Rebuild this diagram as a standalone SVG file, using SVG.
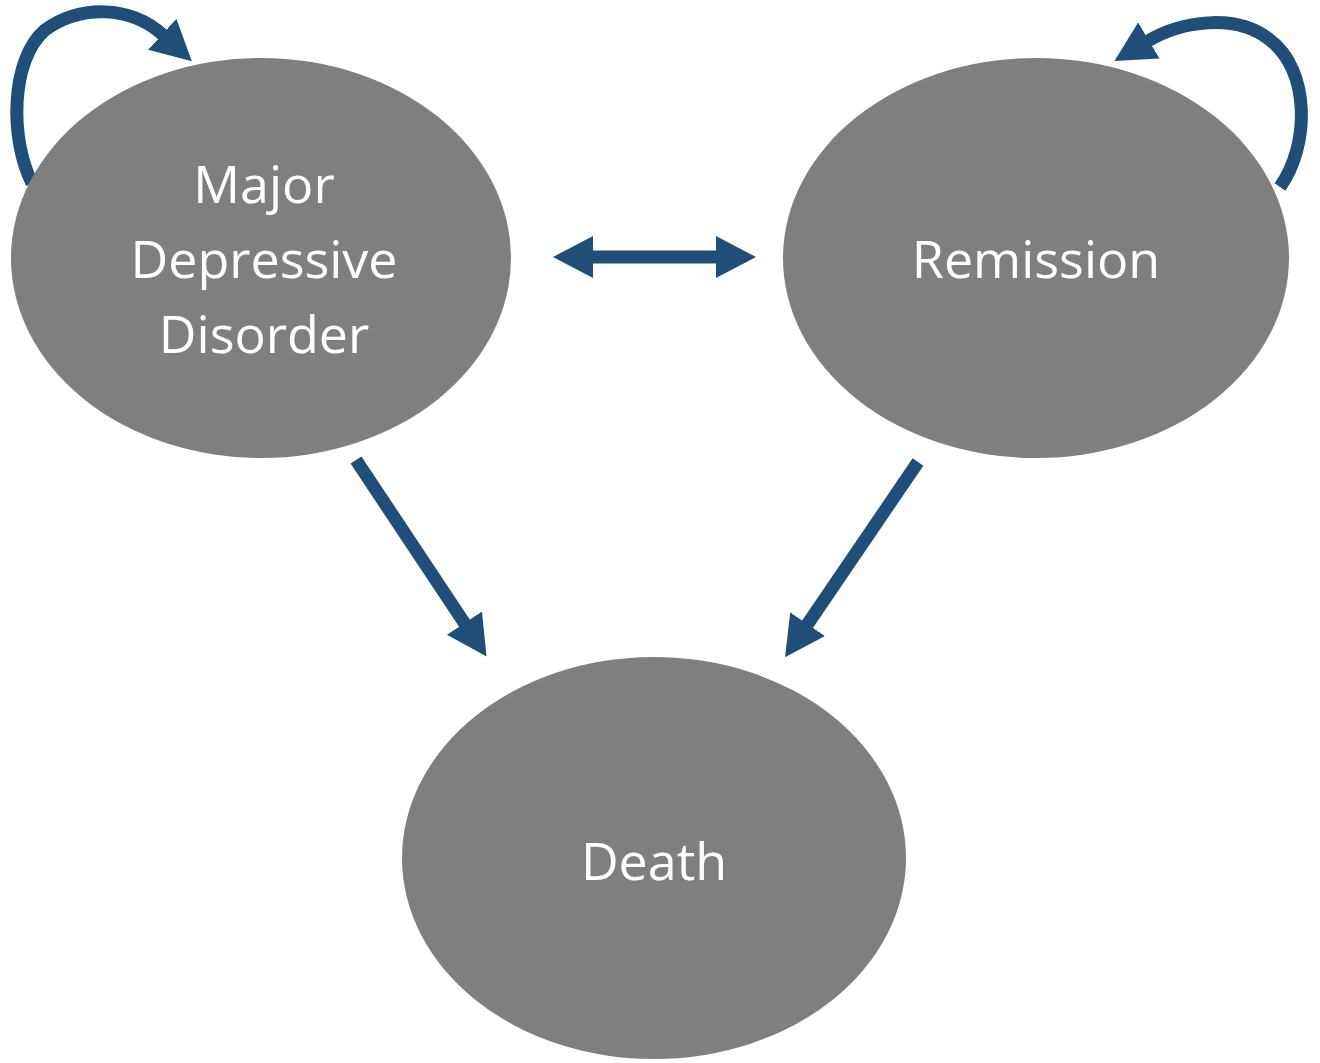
<svg xmlns="http://www.w3.org/2000/svg" width="1320" height="1063" viewBox="0 0 1320 1063">
<style>
.node{fill:#7f7f7f}
.lbl{fill:#ffffff;font-family:"Open Sans","Noto Sans","Liberation Sans",sans-serif;font-size:52px;text-anchor:middle}
.con{fill:none;stroke:#1f4e79;stroke-width:13}
.loop{fill:none;stroke:#1f4e79;stroke-width:13}
</style>
<defs>
<marker id="ah" markerUnits="userSpaceOnUse" markerWidth="40" markerHeight="42" refX="1" refY="21" orient="auto-start-reverse" viewBox="0 0 40 42">
<path d="M0,0 L40,21 L0,42 z" fill="#1f4e79"/>
</marker>
</defs>
<rect width="1320" height="1063" fill="#ffffff"/>
<g id="connectors">
<path class="loop" d="M32 183 C10 140 10 60 45 30 C80 5 130 5 163 35" marker-end="url(#ah)"/>
<path class="loop" d="M1280 187 C1310 145 1310 70 1270 40 C1235 12 1180 22 1148 41" marker-end="url(#ah)"/>
<path class="con" d="M592 257 L717 257" marker-start="url(#ah)" marker-end="url(#ah)"/>
<path class="con" d="M356 460 L465 624" marker-end="url(#ah)"/>
<path class="con" d="M918 462 L807 625" marker-end="url(#ah)"/>
</g>
<g id="node-mdd">
<ellipse class="node" cx="261" cy="258" rx="250" ry="200"/>
<text class="lbl" x="264" y="203">Major</text>
<text class="lbl" x="264" y="278">Depressive</text>
<text class="lbl" x="264" y="353">Disorder</text>
</g>
<g id="node-remission">
<ellipse class="node" cx="1036" cy="258" rx="253" ry="200"/>
<text class="lbl" x="1036" y="278">Remission</text>
</g>
<g id="node-death">
<ellipse class="node" cx="654" cy="858" rx="252" ry="201"/>
<text class="lbl" x="654" y="880">Death</text>
</g>
</svg>
